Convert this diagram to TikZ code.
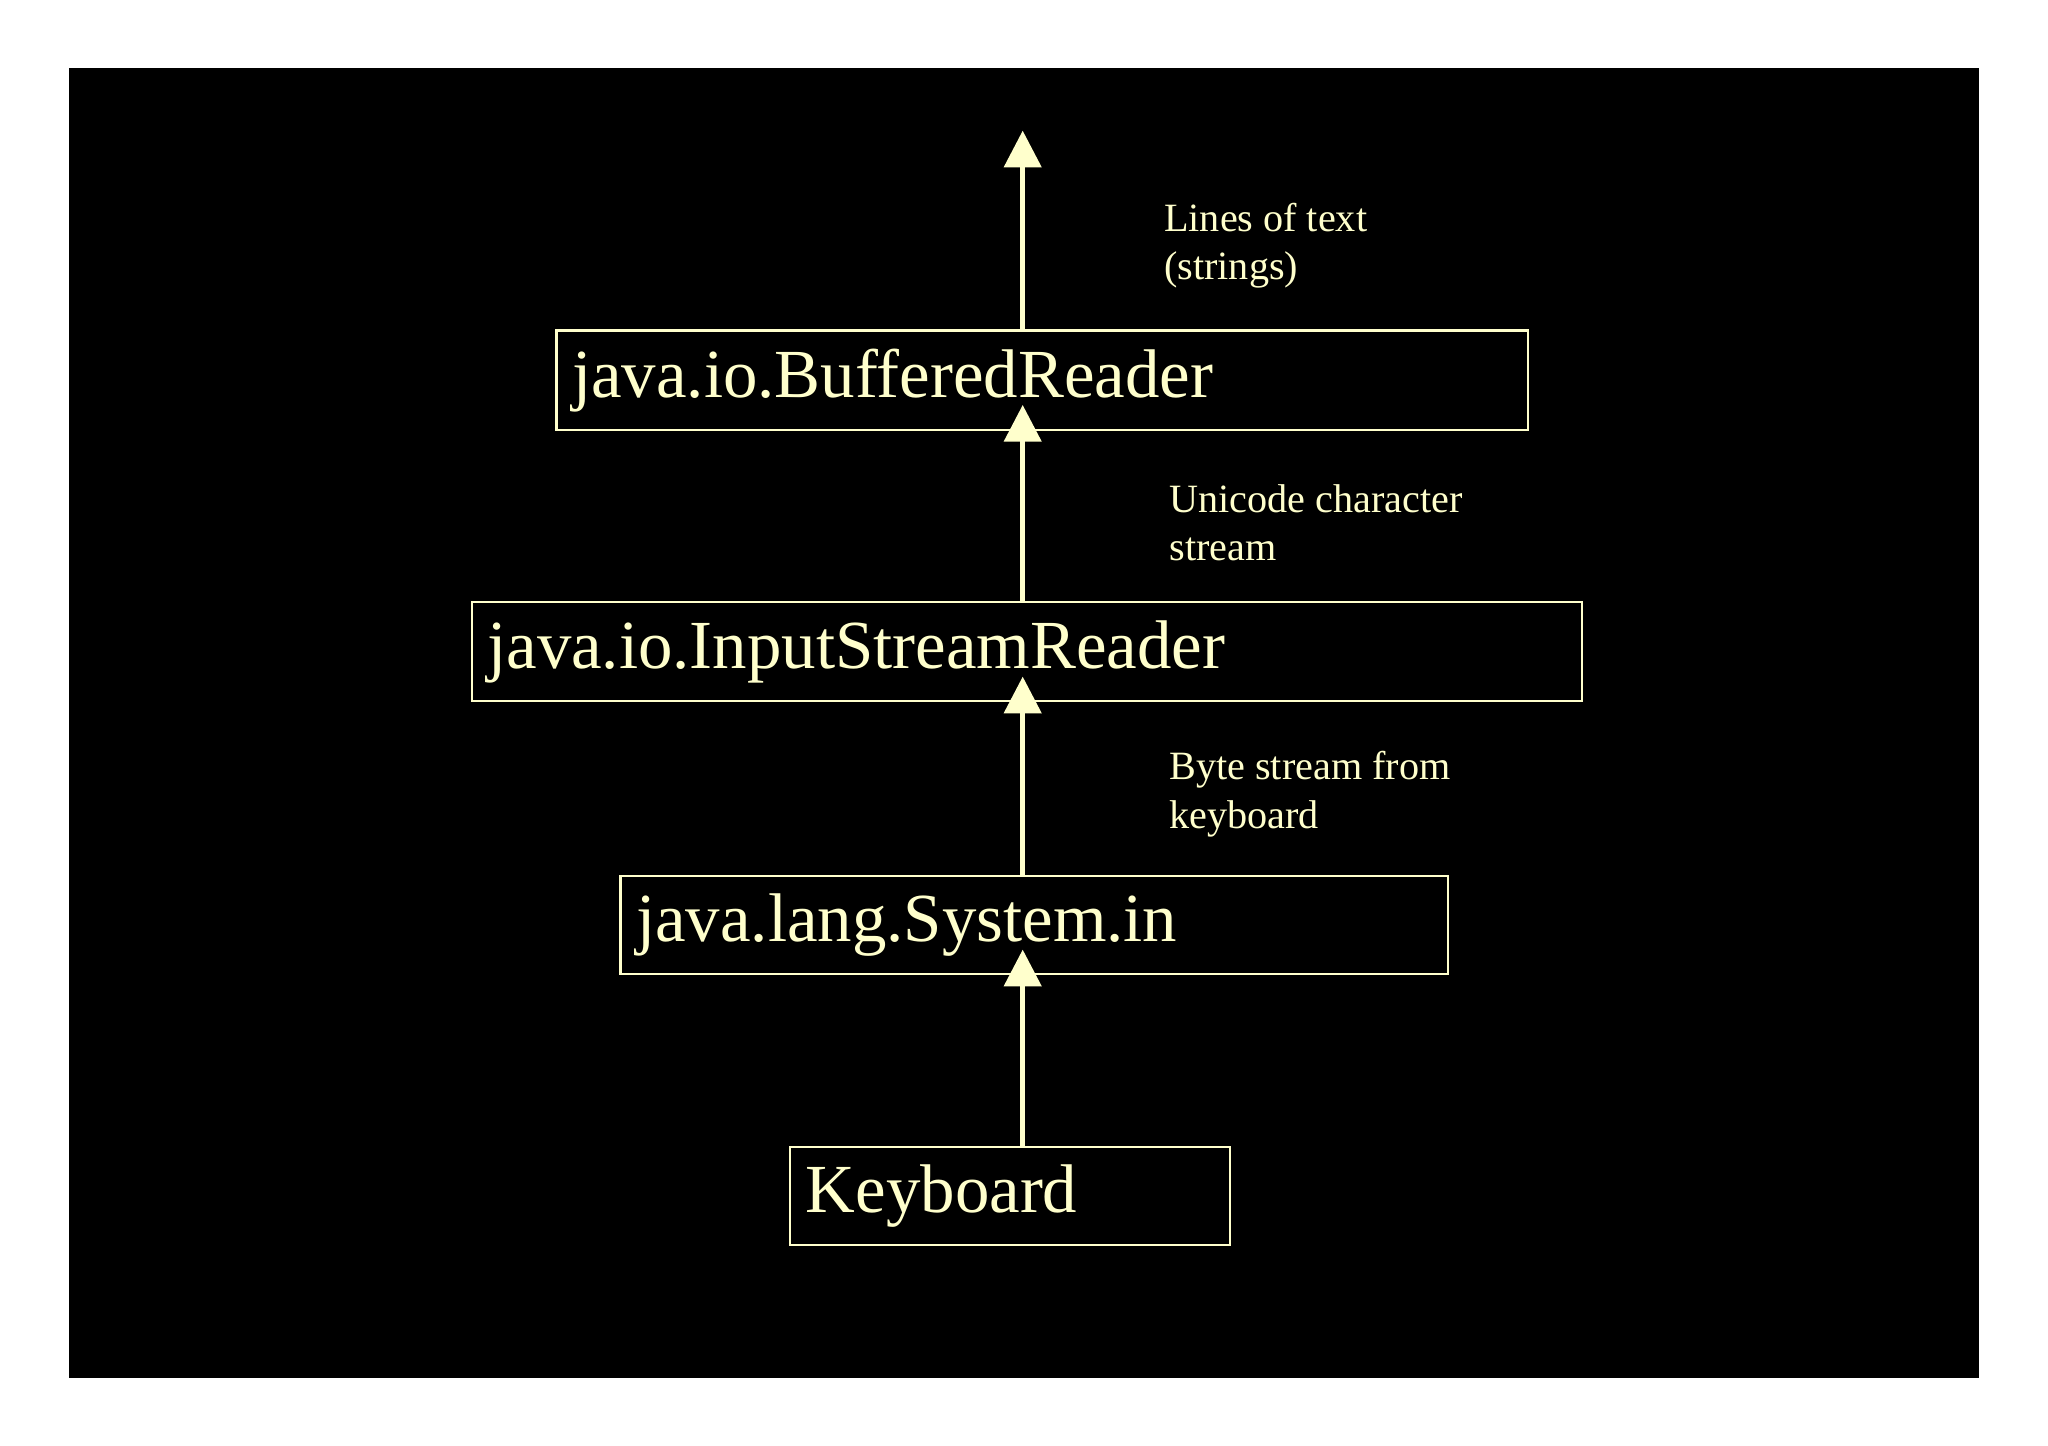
\documentclass[tikz,border=0pt]{standalone}
\usepackage{fontspec}
\setmainfont{Liberation Serif}
\usetikzlibrary{arrows.meta}
\definecolor{fg}{HTML}{FFFFCC}
\begin{document}
\begin{tikzpicture}[x=0.02cm,y=-0.02cm,
  box/.style={draw=fg,line width=0.9pt,text=fg,inner xsep=0.24cm,inner ysep=0pt,align=left,font=\fontsize{30}{34}\selectfont},
  lbl/.style={text=fg,anchor=west,align=left,inner sep=0pt,font=\fontsize{17.5}{21}\selectfont},
  arr/.style={draw=fg,line width=2.3pt,-{Triangle[width=16pt,length=16pt]}}]
\useasboundingbox (0,0) rectangle (1568,1107);
\fill[white] (0,0) rectangle (1568,1107);
\fill[black] (53,52) rectangle (1515,1055);
\node[box,minimum height=1.52cm,text width=14.4cm] (br) at (798,291) {java.io.BufferedReader};
\node[box,minimum height=1.52cm,text width=16.52cm] (isr) at (786,499) {java.io.InputStreamReader};
\node[box,minimum height=1.5cm,text width=12.2cm] (si) at (792,708) {java.lang.System.in};
\node[box,minimum height=1.5cm,text width=6.26cm] (kb) at (773.5,916) {Keyboard};
\coordinate (ax) at (783,0);
\coordinate (top) at (783,100);
\coordinate (tbr) at (783,310);
\coordinate (tisr) at (783,518);
\coordinate (tsi) at (783,727);
\draw[arr] (kb.north -| ax) -- (tsi);
\draw[arr] (si.north -| ax) -- (tisr);
\draw[arr] (isr.north -| ax) -- (tbr);
\draw[arr] (br.north -| ax) -- (top);
\node[lbl] (l1) at (891,188) {Lines of text\\(strings)};
\node[lbl] (l2) at (895,400) {Unicode character\\stream};
\node[lbl] (l3) at (895,608) {Byte stream from\\keyboard};
\end{tikzpicture}
\end{document}
